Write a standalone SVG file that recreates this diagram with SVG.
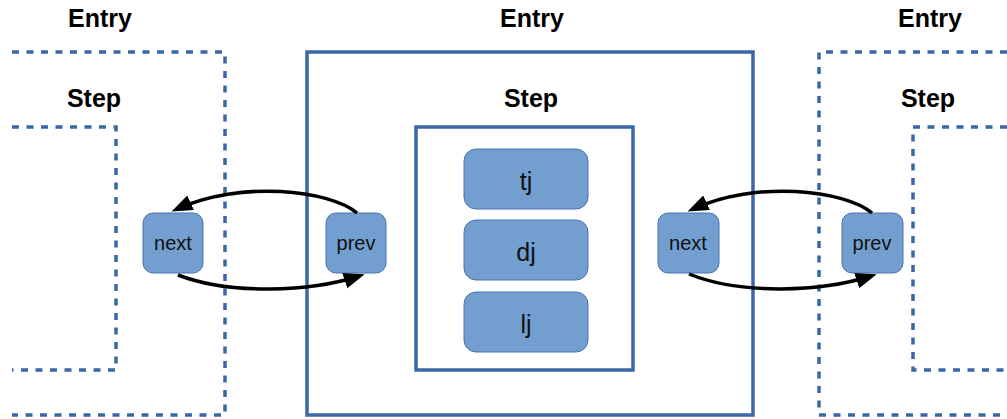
<svg xmlns="http://www.w3.org/2000/svg" width="1007" height="419" viewBox="0 0 1007 419">
<style>
.frame{fill:none;stroke:#3a67a6;stroke-width:3.5}
.dash{fill:none;stroke:#3a67a6;stroke-width:3.5;stroke-dasharray:7 7.5}
.box{fill:#729fcf;stroke:#4a74ad;stroke-width:1}
.title{font-family:"Liberation Sans",Arial,sans-serif;font-weight:bold;font-size:25px;fill:#000;text-anchor:middle}
.lbl{font-family:"Liberation Sans",Arial,sans-serif;font-size:20px;fill:#111;text-anchor:middle}
.big{font-family:"Liberation Sans",Arial,sans-serif;font-size:25px;fill:#111;text-anchor:middle}
.conn{fill:none;stroke:#000;stroke-width:3.5}
</style>
<defs>
<marker id="ah" markerUnits="userSpaceOnUse" markerWidth="22" markerHeight="18" refX="15" refY="8" orient="auto">
<path d="M0,0 L21,8 L0,16 z" fill="#000"/>
</marker>
</defs>
<rect width="1007" height="419" fill="#fff"/>
<g id="entry-left">
<path class="dash" d="M12,52 H225 V415 H12"/>
<text class="title" x="100" y="27">Entry</text>
</g>
<g id="step-left">
<path class="dash" d="M12,127 H116 V370 H12"/>
<text class="title" x="94" y="107">Step</text>
</g>
<g id="entry-center">
<rect class="frame" x="307" y="52" width="446" height="363"/>
<text class="title" x="532" y="27">Entry</text>
</g>
<g id="step-center">
<rect class="frame" x="416" y="127" width="217" height="243"/>
<text class="title" x="531" y="107">Step</text>
</g>
<g id="entry-right">
<path class="dash" d="M1007,52 H819 V415 H1007"/>
<text class="title" x="930" y="27">Entry</text>
</g>
<g id="step-right">
<path class="dash" d="M1007,127 H913 V370 H1007"/>
<text class="title" x="928" y="107">Step</text>
</g>
<g id="tj">
<rect class="box" x="464" y="149" width="124" height="60" rx="12"/>
<text class="big" x="526" y="190">tj</text>
</g>
<g id="dj">
<rect class="box" x="464" y="220" width="124" height="60" rx="12"/>
<text class="big" x="526" y="261">dj</text>
</g>
<g id="lj">
<rect class="box" x="464" y="292" width="124" height="60" rx="12"/>
<text class="big" x="526" y="333">lj</text>
</g>
<g id="next-left">
<rect class="box" x="143" y="213" width="60" height="60" rx="10"/>
<text class="lbl" x="173" y="250">next</text>
</g>
<g id="prev-left">
<rect class="box" x="326" y="213" width="60" height="60" rx="10"/>
<text class="lbl" x="356" y="250">prev</text>
</g>
<g id="next-right">
<rect class="box" x="658" y="213" width="61" height="60" rx="10"/>
<text class="lbl" x="688" y="250">next</text>
</g>
<g id="prev-right">
<rect class="box" x="842" y="213" width="61" height="60" rx="10"/>
<text class="lbl" x="872" y="250">prev</text>
</g>
<g id="connectors">
<path class="conn" d="M357,213 C330,190 240,180 177,209" marker-end="url(#ah)"/>
<path class="conn" d="M178,275 C230,295 310,292 359,276" marker-end="url(#ah)"/>
<path class="conn" d="M872,213 C845,190 755,180 693,209" marker-end="url(#ah)"/>
<path class="conn" d="M689,274 C741,295 821,292 871,276" marker-end="url(#ah)"/>
</g>
</svg>
